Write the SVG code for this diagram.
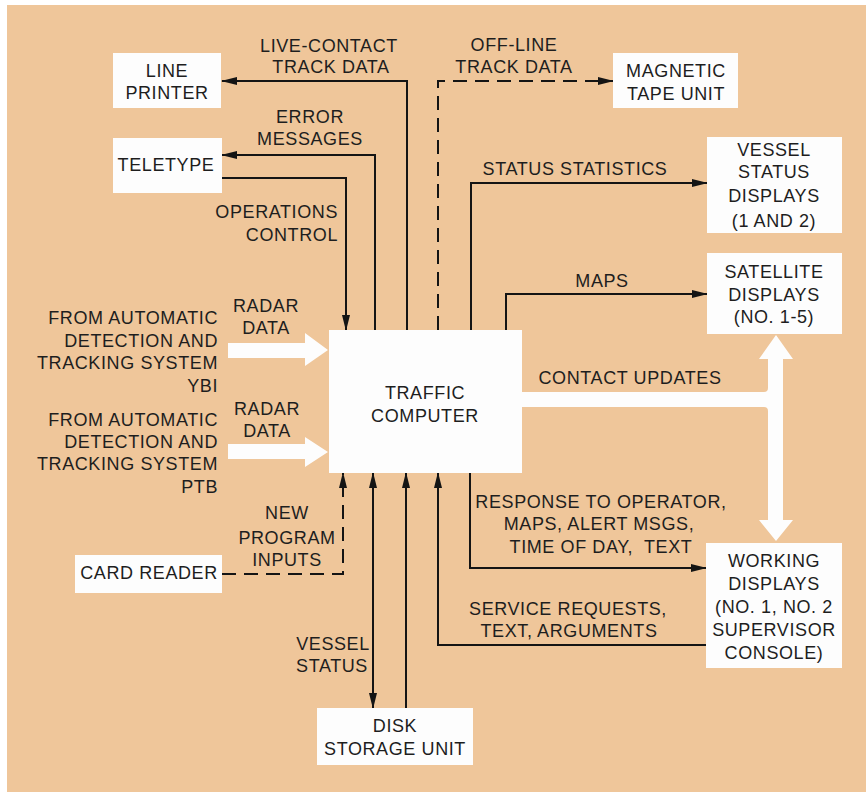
<svg xmlns="http://www.w3.org/2000/svg" width="866" height="792" viewBox="0 0 866 792">
<style>
.t{font-family:"Liberation Sans",Arial,sans-serif;font-size:18px;fill:#1e1e1e;letter-spacing:0.6px;text-anchor:middle}
.e{text-anchor:end}
.s{text-anchor:start}
.box{fill:#fdfdfd}
.ln{fill:none;stroke:#141414;stroke-width:2}
.d{stroke-dasharray:14 8}
.wa{fill:#fdfdfd}
</style>
<defs>
<marker id="ah" markerUnits="userSpaceOnUse" markerWidth="16" markerHeight="10" refX="15" refY="5" orient="auto-start-reverse" viewBox="0 0 16 10">
<path d="M0,1 L16,5 L0,9 Z" fill="#141414"/>
</marker>
</defs>
<rect width="866" height="792" fill="#ffffff"/>
<rect x="7" y="5" width="859" height="787" fill="#efc69a"/>

<g id="connectors">
<path class="ln" d="M407,330 V81 H222" marker-end="url(#ah)"/>
<path class="ln" d="M375,330 V155 H222" marker-end="url(#ah)"/>
<path class="ln" d="M222,178 H346 V330" marker-end="url(#ah)"/>
<path class="ln d" d="M438,330 V81 H613" marker-end="url(#ah)"/>
<path class="ln" d="M471,330 V183 H707" marker-end="url(#ah)"/>
<path class="ln" d="M506,330 V294 H707" marker-end="url(#ah)"/>
<path class="ln d" d="M222,574 H343 V473" marker-end="url(#ah)"/>
<path class="ln" d="M373,473 V708" marker-start="url(#ah)" marker-end="url(#ah)"/>
<path class="ln" d="M406,708 V473" marker-end="url(#ah)"/>
<path class="ln" d="M706,645 H438 V473" marker-end="url(#ah)"/>
<path class="ln" d="M470,473 V568 H706" marker-end="url(#ah)"/>
<polygon class="wa" points="228,343 305,343 305,333 328,350 305,366 305,358 228,358"/>
<polygon class="wa" points="228,444 305,444 305,437 328,452 305,467 305,459 228,459"/>
<path class="wa" d="M520,392 H764 Q768,392 768,388 V359 H759 L776,335 L793,359 H783 V520 H793 L776,541 L759,520 H768 V411 Q768,407 764,407 H520 Z"/>
<text class="t" x="329" y="52">LIVE-CONTACT</text>
<text class="t" x="331" y="73">TRACK DATA</text>
<text class="t" x="514" y="51">OFF-LINE</text>
<text class="t" x="514" y="73">TRACK DATA</text>
<text class="t" x="310" y="123">ERROR</text>
<text class="t" x="310" y="145">MESSAGES</text>
<text class="t e" x="338" y="218">OPERATIONS</text>
<text class="t e" x="338" y="241">CONTROL</text>
<text class="t" x="575" y="175">STATUS STATISTICS</text>
<text class="t" x="602" y="287">MAPS</text>
<text class="t" x="266" y="312">RADAR</text>
<text class="t" x="266" y="334">DATA</text>
<text class="t" x="267" y="415">RADAR</text>
<text class="t" x="267" y="437">DATA</text>
<text class="t" x="630" y="384">CONTACT UPDATES</text>
<text class="t" x="601" y="508">RESPONSE TO OPERATOR,</text>
<text class="t" x="599" y="530">MAPS, ALERT MSGS,</text>
<text class="t" x="601" y="553">TIME OF DAY,&#160; TEXT</text>
<text class="t" x="568" y="615">SERVICE REQUESTS,</text>
<text class="t" x="569" y="637">TEXT, ARGUMENTS</text>
<text class="t" x="287" y="519">NEW</text>
<text class="t" x="287" y="544">PROGRAM</text>
<text class="t" x="287" y="566">INPUTS</text>
<text class="t" x="333" y="650">VESSEL</text>
<text class="t" x="332" y="672">STATUS</text>
</g>

<g id="adt-ybi">
<text class="t e" x="218" y="324">FROM AUTOMATIC</text>
<text class="t e" x="218" y="347">DETECTION AND</text>
<text class="t e" x="218" y="369">TRACKING SYSTEM</text>
<text class="t e" x="218" y="392">YBI</text>
</g>
<g id="adt-ptb">
<text class="t e" x="218" y="426">FROM AUTOMATIC</text>
<text class="t e" x="218" y="448">DETECTION AND</text>
<text class="t e" x="218" y="470">TRACKING SYSTEM</text>
<text class="t e" x="218" y="493">PTB</text>
</g>

<g id="line-printer">
<rect class="box" x="113" y="53" width="108" height="55"/>
<text class="t" x="167" y="77">LINE</text>
<text class="t" x="167" y="99">PRINTER</text>
</g>
<g id="teletype">
<rect class="box" x="113" y="138" width="109" height="55"/>
<text class="t" x="166" y="171">TELETYPE</text>
</g>
<g id="magnetic-tape">
<rect class="box" x="613" y="53" width="125" height="55"/>
<text class="t" x="676" y="77">MAGNETIC</text>
<text class="t" x="676" y="100">TAPE UNIT</text>
</g>
<g id="vessel-status-displays">
<rect class="box" x="707" y="137" width="135" height="96"/>
<text class="t" x="774" y="156">VESSEL</text>
<text class="t" x="774" y="178">STATUS</text>
<text class="t" x="774" y="202">DISPLAYS</text>
<text class="t" x="774" y="227">(1 AND 2)</text>
</g>
<g id="satellite-displays">
<rect class="box" x="707" y="253" width="135" height="81"/>
<text class="t" x="774" y="278">SATELLITE</text>
<text class="t" x="774" y="301">DISPLAYS</text>
<text class="t" x="774" y="323">(NO. 1-5)</text>
</g>
<g id="traffic-computer">
<rect class="box" x="329" y="330" width="193" height="143"/>
<text class="t" x="425" y="399">TRAFFIC</text>
<text class="t" x="425" y="422">COMPUTER</text>
</g>
<g id="card-reader">
<rect class="box" x="75" y="555" width="147" height="38"/>
<text class="t" x="149" y="579">CARD READER</text>
</g>
<g id="working-displays">
<rect class="box" x="706" y="543" width="136" height="125"/>
<text class="t" x="774" y="567">WORKING</text>
<text class="t" x="774" y="590">DISPLAYS</text>
<text class="t" x="774" y="613">(NO. 1, NO. 2</text>
<text class="t" x="774" y="636">SUPERVISOR</text>
<text class="t" x="774" y="659">CONSOLE)</text>
</g>
<g id="disk-storage">
<rect class="box" x="317" y="708" width="156" height="57"/>
<text class="t" x="395" y="732">DISK</text>
<text class="t" x="395" y="755">STORAGE UNIT</text>
</g>
</svg>
